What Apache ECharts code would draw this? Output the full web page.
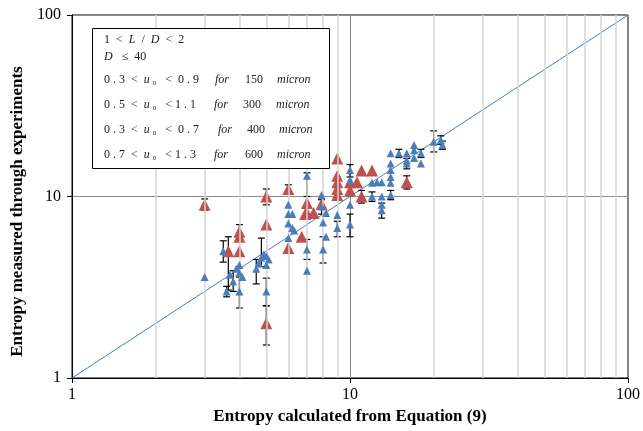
<!DOCTYPE html>
<html>
<head>
<meta charset="utf-8">
<script src="https://cdn.jsdelivr.net/npm/echarts@6/dist/echarts.min.js"></script>
<style>
  html, body { margin: 0; padding: 0; background: #fff; }
  #container { width: 643px; height: 431px; }
</style>
</head>
<body>
<div id="container"></div>
<script>
// [x, y, errLow, errHigh] - err values optional
var redPoints = [
    [3, 9, 8.4, 9.7], [3.65, 5, 3.05, 6.0], [4, 6.4, 5.8, 7.0], [4, 6.0], [4, 5.0],
    [5, 10, 9.0, 11.0], [5, 7], [5, 2.0, 1.52, 2.5],
    [6, 11, 10.3, 11.6], [6, 5.2], [6.7, 6], [6.9, 8], [7, 9.2], [7, 8.1], [7.4, 8.1], [7.9, 9.1],
    [9, 16.2], [9, 13], [9, 12], [9, 11], [9, 10.2],
    [10, 12], [10, 10.8], [10.6, 12], [11, 13.9], [12, 13.9], [11, 10, 9.2, 10.8], [16, 12, 11, 13]
];
var bluePoints = [
    [3, 3.6], [3.5, 5, 4.35, 5.7], [3.6, 3.0, 2.8, 3.2], [4, 3.0, 2.43, 3.6],
    [3.7, 3.7], [3.8, 3.4, 3.0, 3.9], [4, 4.2], [4, 3.8], [4.1, 3.6], [3.9, 4.0],
    [4.6, 4.0, 3.3, 4.5], [4.7, 4.3], [4.8, 4.6, 4.1, 5.9], [4.9, 4.8], [5, 4.7], [5.1, 4.5], [5, 4.2],
    [5, 3.0, 2.5, 3.55],
    [6, 9], [6, 8], [6.2, 8], [6, 7.1], [6.3, 6.5], [6, 5.9], [6.2, 6.7],
    [7, 13, 10, 13.5], [7, 5.1, 4.5, 5.8], [7, 3.9],
    [7.9, 10.2], [7.9, 8.8, 8.0, 9.6], [8, 7.2], [8, 5.1, 4.3, 6.0], [8.2, 6], [8.2, 8.1], [9, 7.9], [9, 6.7, 6.0, 7.3],
    [10, 14, 12.8, 15], [10, 12.3], [10, 9], [10, 7, 6.0, 8.0],
    [12, 11.9], [12.5, 12], [12, 10, 9.4, 10.6], [13, 12], [13, 10], [13, 8.4, 7.6, 9.2], [13, 9],
    [14, 17.3], [14, 15.2], [14, 14], [14, 12.8], [14, 11.9], [14, 10.2, 9.6, 10.8],
    [15, 17.3, 16.4, 18.2], [16, 17.3], [16, 15.8], [16, 15.2, 14.2, 16.2],
    [17, 19.2], [17, 18], [17, 16.3], [18, 17.3, 16.4, 18.2], [18, 15.2],
    [20, 20, 17.6, 23], [21.2, 20.5, 19.4, 21.6], [21.5, 19.2, 18.2, 20.2]
];
var diagonal = [[1, 1], [100, 100]];
var minorGridX = [2, 3, 4, 5, 6, 7, 8, 9, 20, 30, 40, 50, 60, 70, 80, 90];
var legendRows = [
    ['0 . 3  <  ', '  <  0 . 9', '150'],
    ['0 . 5  <  ', '  < 1 . 1', '300'],
    ['0 . 3  <  ', '  <  0 . 7', '400'],
    ['0 . 7  <  ', '  < 1 . 3', '600']
];

var serif = '"Liberation Serif", "Times New Roman", serif';

function errData(pts) {
    return pts.filter(function (p) { return p.length > 2; }).map(function (p) {
        return [p[0], p[2], p[3]];
    });
}
var errorBars = errData(redPoints).concat(errData(bluePoints));

var myChart = echarts.init(document.getElementById('container'));

var legendTexts = [
    { left: 104, top: 34, rich: '{n|1  <  }{i|L}{n|  /  }{i|D}{n|  <  2}' },
    { left: 104, top: 51, rich: '{i|D}{n|   ≤  40}' }
];
var forX = [215, 214, 218, 214], numX = [245, 243, 247, 245], micX = [277, 276, 279, 277];
legendRows.forEach(function (r, k) {
    var top = 74 + k * 25;
    legendTexts.push({ left: 104, top: top, rich: '{n|' + r[0] + '}{i|u}{s|0}{n|' + r[1] + '}' });
    legendTexts.push({ left: forX[k], top: top, rich: '{i|for}' });
    legendTexts.push({ left: numX[k], top: top, rich: '{n|' + r[2] + '}' });
    legendTexts.push({ left: micX[k], top: top, rich: '{i|micron}' });
});

var graphics = [{
    type: 'rect',
    shape: { x: 92.5, y: 28.5, width: 237, height: 140 },
    style: { fill: '#fff', stroke: '#000', lineWidth: 1 },
    z: 100
}];
legendTexts.forEach(function (t) {
    graphics.push({
        type: 'text', left: t.left, top: t.top, z: 101,
        style: {
            text: t.rich,
            rich: {
                n: { fontFamily: serif, fontSize: 12, fill: '#222' },
                i: { fontFamily: serif, fontSize: 12, fontStyle: 'italic', fill: '#222' },
                s: { fontFamily: serif, fontSize: 7, fill: '#222', padding: [7, 3, 0, 3] }
            }
        }
    });
});

myChart.setOption({
    animation: false,
    grid: {
        left: 72, right: 13, top: 15, bottom: 53,
        show: true, borderColor: '#000', borderWidth: 1, backgroundColor: '#fff'
    },
    xAxis: {
        type: 'log', logBase: 10, min: 1, max: 100,
        name: 'Entropy calculated from Equation (9)',
        nameLocation: 'middle', nameGap: 30,
        nameTextStyle: { fontFamily: serif, fontSize: 17, fontWeight: 'bold', color: '#000' },
        axisLine: { lineStyle: { color: '#000' } },
        axisTick: { show: true, length: 5, lineStyle: { color: '#000' } },
        axisLabel: { fontFamily: serif, fontSize: 16, color: '#000', margin: 9 },
        splitLine: { show: true, lineStyle: { color: '#8c8c8c', width: 1 } }
    },
    yAxis: {
        type: 'log', logBase: 10, min: 1, max: 100,
        name: 'Entropy measured through experiments',
        nameLocation: 'middle', nameGap: 46,
        nameTextStyle: {
            fontFamily: serif, fontSize: 17, fontWeight: 'bold', color: '#000',
            padding: [0, 30, 0, 0]
        },
        axisLine: { lineStyle: { color: '#000' } },
        axisTick: { show: true, length: 5, lineStyle: { color: '#000' } },
        axisLabel: { fontFamily: serif, fontSize: 16, color: '#000', margin: 11 },
        splitLine: { show: true, lineStyle: { color: '#8c8c8c', width: 1 } }
    },
    graphic: graphics,
    series: [
        {
            type: 'line',
            data: diagonal,
            symbol: 'none',
            z: 1,
            lineStyle: { color: '#4a7ebb', width: 1 },
            markLine: {
                silent: true,
                symbol: 'none',
                label: { show: false },
                lineStyle: { color: '#d4d4d4', width: 1.5, type: 'solid' },
                data: minorGridX.map(function (v) { return { xAxis: v }; })
            }
        },
        {
            type: 'custom',
            z: 3,
            data: errorBars,
            renderItem: function (params, api) {
                var x = api.value(0);
                var lo = api.coord([x, api.value(1)]);
                var hi = api.coord([x, api.value(2)]);
                var w = 3.5;
                var st = { stroke: '#000', lineWidth: 1.2 };
                return {
                    type: 'group',
                    children: [
                        { type: 'line', shape: { x1: lo[0], y1: lo[1], x2: hi[0], y2: hi[1] }, style: st },
                        { type: 'line', shape: { x1: lo[0] - w, y1: lo[1], x2: lo[0] + w, y2: lo[1] }, style: st },
                        { type: 'line', shape: { x1: hi[0] - w, y1: hi[1], x2: hi[0] + w, y2: hi[1] }, style: st }
                    ]
                };
            }
        },
        {
            type: 'scatter',
            z: 4,
            symbol: 'triangle',
            symbolSize: 12,
            itemStyle: { color: '#c0504d', opacity: 1 },
            data: redPoints.map(function (p) { return [p[0], p[1]]; })
        },
        {
            type: 'scatter',
            z: 5,
            symbol: 'triangle',
            symbolSize: 8,
            itemStyle: { color: '#4a7ebb', opacity: 1 },
            data: bluePoints.map(function (p) { return [p[0], p[1]]; })
        }
    ]
});
</script>
</body>
</html>
